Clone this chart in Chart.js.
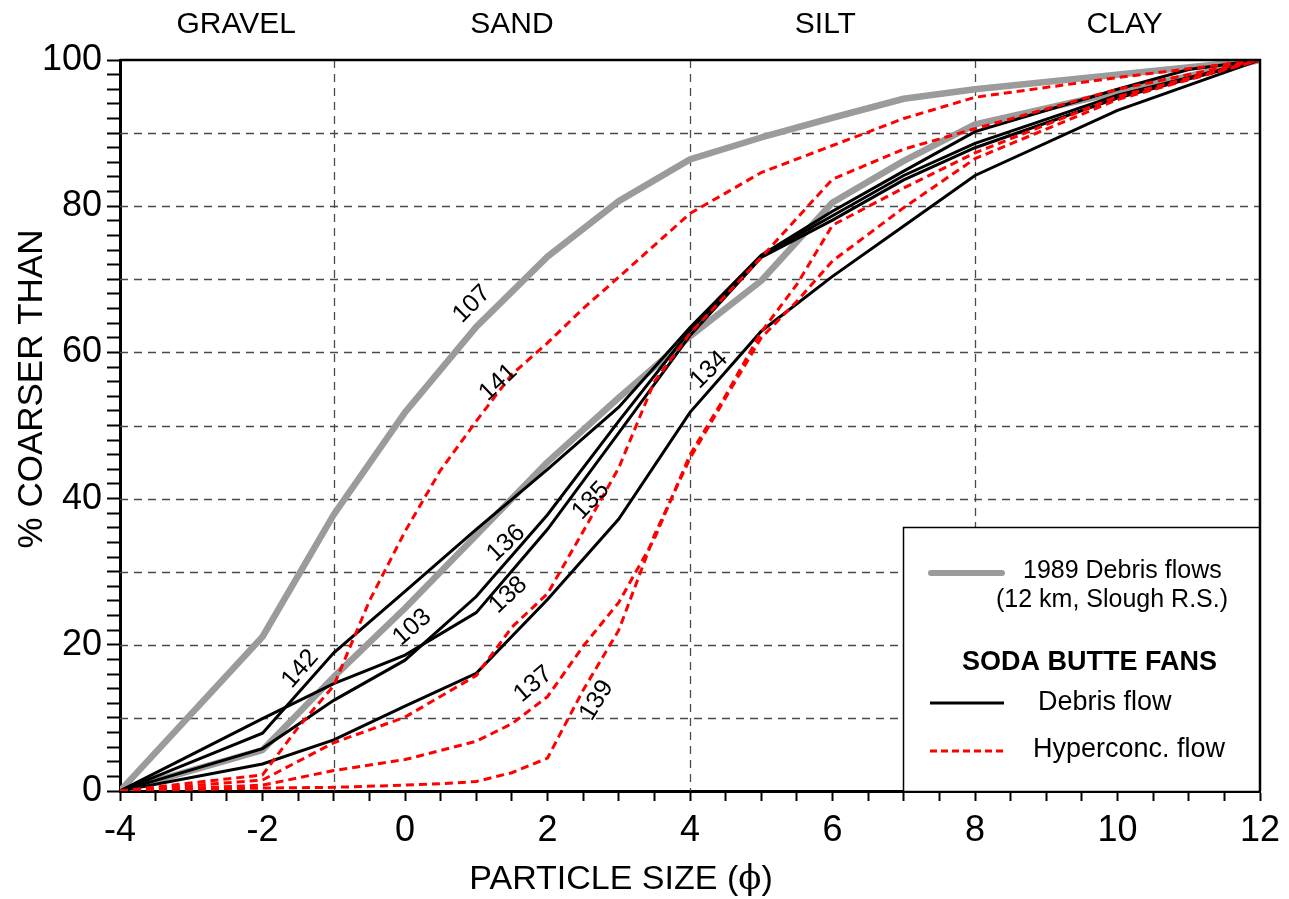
<!DOCTYPE html>
<html>
<head>
<meta charset="utf-8">
<title>Soda Butte fans - particle size</title>
<script src="https://cdn.jsdelivr.net/npm/chart.js@4.4.1/dist/chart.umd.min.js"></script>
<style>
  html, body { margin: 0; padding: 0; background: #fff; }
  #wrap { width: 1289px; height: 899px; }
</style>
</head>
<body>
<div id="wrap"><canvas id="sizeChart" width="1289" height="899"></canvas></div>
<script>
// particle size (phi) at which the curves have vertices
const phi = [-4, -2, -1.5, -1, -0.5, 0, 0.5, 1, 1.5, 2, 2.5, 3, 3.5, 4, 4.5, 5, 5.5, 6, 7, 8, 10, 11, 12];

// % coarser than, one array per sample (null = no vertex at that phi)
// 1989 debris flows (12 km, Slough R.S.)
const s107 = [0, 21.1, null, 37.8, null, 51.8, null, 63.5, null, 73.1, null, 80.7, null, 86.4, null, 89.4, null, 92.1, 94.7, 96.0, null, null, 100];
const s103 = [0, 5.6, null, 15.6, null, 25.0, null, 35.0, null, 45.0, null, 53.8, null, 62.2, null, 69.8, null, 80.5, 86.2, 91.2, null, null, 100];
// Soda Butte fans, debris flow
const s142 = [0, 7.9, null, 18.9, null, 27.3, null, 35.8, null, 44.0, null, 52.5, null, 63.4, null, 73.3, null, 79.3, 84.8, 90.2, 96.0, 98.7, 100];
const s136 = [0, 5.8, null, 12.4, null, 17.9, null, 26.6, null, 37.8, null, 50.6, null, 63.0, null, 73.2, null, 78.7, 84.2, 88.6, 95.2, null, 100];
const s138 = [0, 9.9, null, 14.7, null, 18.6, null, 24.4, null, 35.8, null, 49.0, null, 62.3, null, 73.0, null, 78.1, 83.6, 88.0, 94.8, null, 100];
const s134 = [0, 3.7, null, 7.0, null, 11.6, null, 16.1, null, 26.2, null, 37.2, null, 51.8, null, 62.9, null, 70.4, 77.3, 84.2, 93.1, null, 100];
// Soda Butte fans, hyperconcentrated flow
const s141 = [0, 2.2, 8.7, 14.4, 26.0, 35.5, 43.9, 50.6, 57.0, 61.3, 66.0, 70.3, null, 79.0, null, 84.6, null, 88.3, 92.0, 94.9, 97.6, null, 100];
const s135 = [0, 1.5, null, 6.6, null, 10.1, null, 15.8, 22.4, 27.0, 35.5, 44.2, 56.0, 62.6, null, 73.0, null, 83.7, 87.8, 90.6, 96.0, null, 100];
const s137 = [0, 0.8, null, 2.8, null, 4.3, null, 6.8, 9.2, 12.9, 19.8, 25.8, 34.5, 46.0, 54.1, 62.8, 69.3, 77.4, 82.5, 87.3, 95.0, null, 100];
const s139 = [0, 0.4, null, 0.5, null, 0.8, 1.0, 1.3, 2.5, 4.5, 13.8, 22.0, 35.0, 45.5, 53.8, 62.0, 67.0, 72.5, 79.8, 86.5, 94.6, null, 100];

const grayRuns = [['107', s107], ['103', s103]];
const debrisRuns = [['142', s142], ['136', s136], ['138', s138], ['134', s134]];
const hyperRuns = [['141', s141], ['135', s135], ['137', s137], ['139', s139]];

// texture class boundaries (phi) and class names
const classBounds = [-1, 4, 8];
const gridPct = [10, 20, 30, 40, 50, 60, 70, 80, 90];
const classNames = ['GRAVEL', 'SAND', 'SILT', 'CLAY'];
const classMid = [-2.37, 1.5, 5.9, 10.1];

// sample numbers written along the curves: [text, phi, pct, angle]
const curveTags = [
  ['107', 0.94, 66.6, -45], ['141', 1.31, 55.9, -43], ['136', 1.42, 33.9, -43],
  ['138', 1.45, 26.8, -43], ['135', 2.61, 39.7, -47], ['137', 1.80, 14.6, -40],
  ['139', 2.69, 12.4, -58], ['134', 4.27, 57.6, -45], ['142', -1.47, 16.7, -49],
  ['103', 0.10, 22.4, -41]
];

const FONT = "'Liberation Sans', Arial, Helvetica, sans-serif";

function points(vals) {
  return phi.map((p, i) => ({ x: p, y: vals[i] })).filter(pt => pt.y !== null);
}

const datasets = [];
grayRuns.forEach(([name, vals]) => datasets.push({
  label: name, data: points(vals), borderColor: '#9b9b9b', borderWidth: 6.5,
  borderCapStyle: 'round', borderJoinStyle: 'round', order: 3
}));
debrisRuns.forEach(([name, vals]) => datasets.push({
  label: name, data: points(vals), borderColor: '#000', borderWidth: 3, order: 2
}));
hyperRuns.forEach(([name, vals]) => datasets.push({
  label: name, data: points(vals), borderColor: '#ff0000', borderWidth: 3,
  borderDash: [8, 5], order: 1
}));

const decor = {
  id: 'decor',
  beforeDatasetsDraw(chart) {
    const { ctx, chartArea: a, scales: { x, y } } = chart;
    ctx.save();
    ctx.strokeStyle = '#4a4a4a';
    ctx.lineWidth = 1.3;
    ctx.setLineDash([8, 6]);
    ctx.beginPath();
    gridPct.forEach(v => {
      const py = Math.round(y.getPixelForValue(v)) + 0.5;
      ctx.moveTo(a.left, py); ctx.lineTo(a.right, py);
    });
    classBounds.forEach(v => {
      const px = Math.round(x.getPixelForValue(v)) + 0.5;
      ctx.moveTo(px, a.top); ctx.lineTo(px, a.bottom);
    });
    ctx.stroke();
    ctx.restore();
  },
  afterDatasetsDraw(chart) {
    const { ctx, scales: { x, y } } = chart;
    ctx.save();
    ctx.fillStyle = '#000';
    ctx.font = '25px ' + FONT;
    ctx.textAlign = 'center';
    ctx.textBaseline = 'middle';
    curveTags.forEach(([t, p, v, ang]) => {
      ctx.save();
      ctx.translate(x.getPixelForValue(p), y.getPixelForValue(v));
      ctx.rotate(ang * Math.PI / 180);
      ctx.fillText(t, 0, 0);
      ctx.restore();
    });
    ctx.restore();
  },
  afterDraw(chart) {
    const { ctx, chartArea: a, scales: { x } } = chart;
    ctx.save();
    // top and right frame
    ctx.strokeStyle = '#000';
    ctx.lineWidth = 2.5;
    ctx.beginPath();
    ctx.moveTo(a.left, a.top); ctx.lineTo(a.right, a.top); ctx.lineTo(a.right, a.bottom);
    ctx.stroke();

    // class names above the plot
    ctx.fillStyle = '#000';
    ctx.font = '30px ' + FONT;
    ctx.textAlign = 'center';
    ctx.textBaseline = 'middle';
    classNames.forEach((n, i) => ctx.fillText(n, x.getPixelForValue(classMid[i]), 25));

    // axis titles
    ctx.font = '34px ' + FONT;
    const t1 = 'PARTICLE SIZE (', t3 = ')';
    const w1 = ctx.measureText(t1).width, w3 = ctx.measureText(t3).width;
    ctx.font = '34px "DejaVu Serif", serif';
    const w2 = ctx.measureText('\u03D5').width;
    const sx = 621 - (w1 + w2 + w3) / 2;
    ctx.textAlign = 'left';
    ctx.font = '34px ' + FONT;
    ctx.fillText(t1, sx, 880);
    ctx.font = '34px "DejaVu Serif", serif';
    ctx.fillText('\u03D5', sx + w1, 880);
    ctx.font = '34px ' + FONT;
    ctx.fillText(t3, sx + w1 + w2, 880);

    ctx.save();
    ctx.translate(32, 389);
    ctx.rotate(-Math.PI / 2);
    ctx.textAlign = 'center';
    ctx.font = '35px ' + FONT;
    ctx.fillText('% COARSER THAN', 0, 0);
    ctx.restore();

    // legend box
    const L = a.right - 357, T = a.bottom - 264;
    ctx.fillStyle = '#fff';
    ctx.fillRect(L, T, a.right - L, a.bottom - T);
    ctx.strokeStyle = '#000';
    ctx.lineWidth = 1.5;
    ctx.strokeRect(L + 0.5, T + 0.5, a.right - L - 1, a.bottom - T);

    ctx.lineCap = 'round';
    ctx.strokeStyle = '#9b9b9b';
    ctx.lineWidth = 6;
    ctx.beginPath(); ctx.moveTo(L + 28, T + 46); ctx.lineTo(L + 99, T + 46); ctx.stroke();
    ctx.lineCap = 'butt';
    ctx.strokeStyle = '#000';
    ctx.lineWidth = 3;
    ctx.beginPath(); ctx.moveTo(L + 27, T + 176); ctx.lineTo(L + 101, T + 176); ctx.stroke();
    ctx.strokeStyle = '#ff0000';
    ctx.setLineDash([7, 4]);
    ctx.beginPath(); ctx.moveTo(L + 27, T + 224); ctx.lineTo(L + 101, T + 224); ctx.stroke();
    ctx.setLineDash([]);

    ctx.fillStyle = '#000';
    ctx.textAlign = 'left';
    ctx.textBaseline = 'middle';
    ctx.font = '25px ' + FONT;
    ctx.fillText('1989 Debris flows', L + 120, T + 44);
    ctx.fillText('(12 km, Slough R.S.)', L + 93, T + 73);
    ctx.font = 'bold 27px ' + FONT;
    ctx.fillText('SODA BUTTE FANS', L + 59, T + 136);
    ctx.font = '27px ' + FONT;
    ctx.fillText('Debris flow', L + 135, T + 176);
    ctx.fillText('Hyperconc. flow', L + 130, T + 223);
    ctx.restore();
  }
};

new Chart(document.getElementById('sizeChart'), {
  type: 'line',
  data: { datasets: datasets },
  plugins: [decor],
  options: {
    responsive: false,
    animation: false,
    devicePixelRatio: 1,
    layout: { padding: { left: 0, top: 60, right: 29, bottom: 0 } },
    elements: { point: { radius: 0 }, line: { tension: 0, fill: false } },
    plugins: { legend: { display: false }, tooltip: { enabled: false } },
    scales: {
      x: {
        type: 'linear', min: -4, max: 12,
        afterFit: s => { s.height = 108; },
        border: { display: true, color: '#000', width: 3 },
        grid: { drawOnChartArea: false, drawTicks: true, tickLength: 10, tickColor: '#000', tickWidth: 2 },
        ticks: {
          stepSize: 0.5, autoSkip: false, maxRotation: 0, padding: 8, color: '#000',
          font: { family: FONT, size: 36 },
          callback: v => (Number.isInteger(v) && v % 2 === 0) ? String(v) : ''
        }
      },
      y: {
        min: 0, max: 100,
        afterFit: s => { s.width = 120; },
        border: { display: true, color: '#000', width: 3 },
        grid: { drawOnChartArea: false, drawTicks: true, tickLength: 13, tickColor: '#000', tickWidth: 2 },
        ticks: {
          stepSize: 2, autoSkip: false, padding: 5, color: '#000',
          font: { family: FONT, size: 36 },
          callback: v => (v % 20 === 0) ? String(v) : ''
        }
      }
    }
  }
});
</script>
</body>
</html>
